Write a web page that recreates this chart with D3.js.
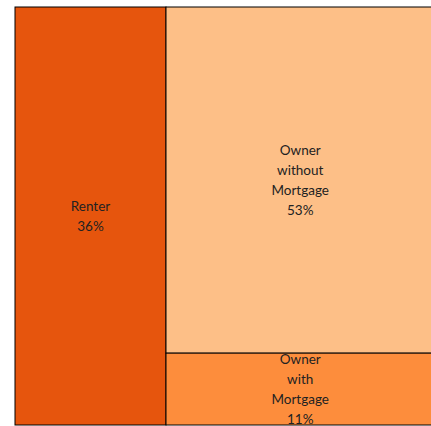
<!DOCTYPE html>
<html>
<head>
<meta charset="utf-8">
<script src="https://cdn.jsdelivr.net/npm/d3@7"></script>
<style>
  html, body { margin: 0; padding: 0; background: #fff; overflow: hidden; }
  svg { display: block; }
</style>
</head>
<body>
<script>
// Data
const categories = ["Renter", "Owner without Mortgage", "Owner with Mortgage"];
const groups = ["Renter", "Owner", "Owner"];
const values = [36, 53, 11];
const colors = ["#e6550d", "#fdbf87", "#fd8d3c"];

const W = 431, H = 426;
const svg = d3.select("body").append("svg").attr("width", W).attr("height", H);

// Build nested hierarchy: root -> groups -> categories
const groupNames = Array.from(new Set(groups));
const tree = {
  name: "root",
  children: groupNames.map(g => {
    const idx = categories.map((c, i) => i).filter(i => groups[i] === g);
    if (idx.length === 1 && categories[idx[0]] === g) {
      return { name: g, value: values[idx[0]], i: idx[0] };
    }
    return { name: g, children: idx.map(i => ({ name: categories[i], value: values[i], i })) };
  })
};

const root = d3.hierarchy(tree).sum(d => d.value || 0);

const x0 = 15, y0 = 7, y1 = 425;
const totalW = (166 - 15) / (values[0] / d3.sum(values)); // keep aspect of the reference
d3.treemap()
  .tile(d3.treemapSliceDice)
  .size([totalW, y1 - y0])
  .round(false)(root);

const g = svg.append("g").attr("transform", `translate(${x0},${y0})`);

const leaves = g.selectAll("g.cell")
  .data(root.leaves())
  .join("g")
  .attr("class", "cell");

leaves.append("rect")
  .attr("x", d => d.x0)
  .attr("y", d => d.y0)
  .attr("width", d => d.x1 - d.x0)
  .attr("height", d => d.y1 - d.y0)
  .attr("fill", d => colors[d.data.i])
  .attr("stroke", "#000")
  .attr("stroke-width", 1);

const lineH = 19.8;
leaves.each(function(d) {
  const lines = d.data.name.split(" ").concat([Math.round(100 * d.value / root.value) + "%"]);
  const cx = (d.x0 + d.x1) / 2, cy = (d.y0 + d.y1) / 2;
  const t = d3.select(this).append("text")
    .attr("text-anchor", "middle")
    .attr("font-family", "Lato, 'Open Sans', sans-serif")
    .attr("font-size", 13.5)
    .attr("fill", "#222");
  lines.forEach((s, k) => {
    t.append("tspan")
      .attr("x", cx)
      .attr("y", cy + (k - (lines.length - 1) / 2) * lineH)
      .attr("dy", "0.35em")
      .text(s);
  });
});
</script>
</body>
</html>
